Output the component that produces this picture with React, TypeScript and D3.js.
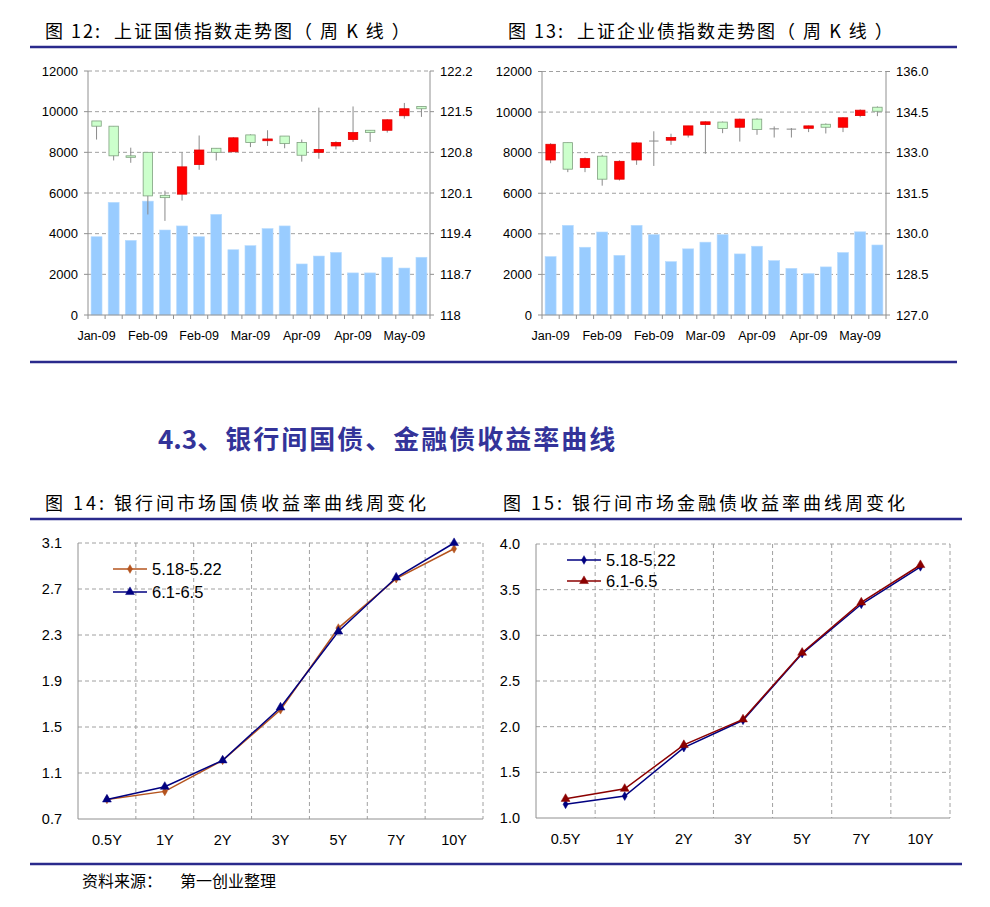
import React from "react";
import * as d3 from "d3";

// weekly candles, week start dates
const weekStarts = [
  "2009-01-12", "2009-01-19", "2009-01-26", "2009-02-02", "2009-02-09",
  "2009-02-16", "2009-02-23", "2009-03-02", "2009-03-09", "2009-03-16",
  "2009-03-23", "2009-03-30", "2009-04-06", "2009-04-13", "2009-04-20",
  "2009-04-27", "2009-05-04", "2009-05-11", "2009-05-18", "2009-05-25",
];

// 图12 上证国债指数
const govOpen = [121.34, 121.25, 120.74, 120.8, 120.06, 120.08, 120.59, 120.87, 120.81, 121.1, 121.0, 121.08, 120.97, 120.8, 120.91, 121.02, 121.18, 121.18, 121.43, 121.59];
const govClose = [121.25, 120.74, 120.72, 120.05, 120.02, 120.55, 120.84, 120.8, 121.05, 120.97, 121.03, 120.95, 120.75, 120.85, 120.97, 121.14, 121.14, 121.36, 121.55, 121.55];
const govHigh = [121.34, 121.25, 120.88, 120.8, 120.14, 120.8, 121.09, 120.87, 121.06, 121.11, 121.18, 121.08, 121.02, 121.57, 120.99, 121.59, 121.18, 121.37, 121.65, 121.59];
const govLow = [121.02, 120.66, 120.62, 119.73, 119.62, 119.97, 120.5, 120.66, 120.81, 120.89, 120.91, 120.87, 120.64, 120.69, 120.85, 120.98, 120.98, 121.14, 121.38, 121.41];
const govVolume = [3850, 5540, 3670, 5600, 4180, 4380, 3850, 4950, 3210, 3410, 4250, 4380, 2510, 2900, 3080, 2070, 2070, 2840, 2310, 2840];
const govPriceTicks = [118, 118.7, 119.4, 120.1, 120.8, 121.5, 122.2];

// 图13 上证企业债指数
const corpOpen = [132.73, 133.37, 132.45, 132.87, 132.02, 132.73, 133.43, 133.46, 133.65, 134.04, 134.13, 133.94, 134.24, 133.88, 133.87, 133.9, 134.05, 133.94, 134.37, 134.68];
const corpClose = [133.31, 132.39, 132.78, 132.02, 132.68, 133.36, 133.43, 133.56, 133.99, 134.14, 133.89, 134.24, 133.86, 133.88, 133.87, 133.99, 133.94, 134.29, 134.57, 134.53];
const corpHigh = [133.35, 133.37, 132.82, 132.92, 132.72, 133.39, 133.79, 133.7, 133.99, 134.16, 134.15, 134.26, 134.27, 133.97, 133.91, 134.0, 134.08, 134.31, 134.6, 134.71];
const corpLow = [132.61, 132.28, 132.28, 131.78, 131.97, 132.55, 132.51, 133.29, 133.56, 132.96, 133.72, 133.41, 133.66, 133.56, 133.56, 133.76, 133.71, 133.76, 134.31, 134.35];
const corpVolume = [2880, 4420, 3340, 4090, 2940, 4420, 3960, 2630, 3260, 3590, 3960, 3010, 3390, 2680, 2300, 2040, 2370, 3080, 4100, 3450];
const corpPriceTicks = [127, 128.5, 130, 131.5, 133, 134.5, 136];

const volumeTicks = [0, 2000, 4000, 6000, 8000, 10000, 12000];

// yield curves
const tenors = ["0.5Y", "1Y", "2Y", "3Y", "5Y", "7Y", "10Y"];
const govYieldMay = [0.87, 0.94, 1.21, 1.65, 2.36, 2.79, 3.05];
const govYieldJun = [0.87, 0.98, 1.21, 1.67, 2.33, 2.8, 3.1];
const finYieldMay = [1.15, 1.24, 1.77, 2.07, 2.8, 3.34, 3.75];
const finYieldJun = [1.21, 1.32, 1.8, 2.08, 2.81, 3.36, 3.77];
const govYieldTicks = [0.7, 1.1, 1.5, 1.9, 2.3, 2.7, 3.1];
const finYieldTicks = [1.0, 1.5, 2.0, 2.5, 3.0, 3.5, 4.0];

const LATIN = "'Liberation Sans', Arial, sans-serif";
const CJK = "'Noto Sans CJK SC', 'Liberation Sans', sans-serif";
const NAVY_RULE = "#2A2A8C";
const GRID = "#a0a0a0";
const AXIS = "#909090";

const parseDay = d3.timeParse("%Y-%m-%d");
const fmtMonth = d3.timeFormat("%b-%y");

interface KProps {
  left: number;
  top: number;
  width: number;
  height: number;
  open: number[];
  high: number[];
  low: number[];
  close: number[];
  volume: number[];
  priceTicks: number[];
  priceFmt: (v: number) => string;
}

const KChart: React.FC<KProps> = ({ left, top, width, height, open, high, low, close, volume, priceTicks, priceFmt }) => {
  const x = d3.scaleBand<number>().domain(d3.range(volume.length)).range([left, left + width]);
  const yVol = d3.scaleLinear().domain([0, 12000]).range([top + height, top]);
  const yPx = d3.scaleLinear().domain([priceTicks[0], priceTicks[priceTicks.length - 1]]).range([top + height, top]);
  const step = x.step();
  const barW = step * 0.64;
  const candleW = step * 0.55;
  const bottom = top + height;
  const right = left + width;

  return (
    <g>
      {/* grid */}
      {volumeTicks.slice(1).map((t) => (
        <line key={t} x1={left} x2={right} y1={yVol(t)} y2={yVol(t)} stroke={GRID} strokeDasharray="4,3" />
      ))}
      {/* volume bars */}
      {volume.map((v, i) => (
        <rect
          key={i}
          x={x(i)! + (step - barW) / 2}
          y={yVol(v)}
          width={barW}
          height={bottom - yVol(v)}
          fill="#99CCFF"
          stroke="#b8dcff"
          strokeWidth={0.6}
        />
      ))}
      {/* candles */}
      {open.map((o, i) => {
        const c = close[i];
        const cx = x(i)! + step / 2;
        const up = c > o;
        const doji = Math.abs(c - o) < 0.005;
        const yTop = yPx(Math.max(o, c));
        const yBot = yPx(Math.min(o, c));
        return (
          <g key={i}>
            <line x1={cx} x2={cx} y1={yPx(high[i])} y2={yPx(low[i])} stroke="#8a8a8a" strokeWidth={1} />
            {doji ? (
              <line x1={cx - candleW / 2} x2={cx + candleW / 2} y1={yTop} y2={yTop} stroke="#8a8a8a" strokeWidth={1} />
            ) : (
              <rect
                x={cx - candleW / 2}
                y={yTop}
                width={candleW}
                height={Math.max(yBot - yTop, 1.5)}
                fill={up ? "#FF0000" : "#CCFFCC"}
                stroke={up ? "#E00000" : "#7FA07F"}
                strokeWidth={0.8}
              />
            )}
          </g>
        );
      })}
      {/* axes */}
      <line x1={left} x2={left} y1={top} y2={bottom} stroke={AXIS} />
      <line x1={right} x2={right} y1={top} y2={bottom} stroke={AXIS} />
      <line x1={left} x2={right} y1={bottom} y2={bottom} stroke={AXIS} />
      {volumeTicks.map((t) => (
        <g key={t}>
          <line x1={left - 4} x2={left} y1={yVol(t)} y2={yVol(t)} stroke={AXIS} />
          <text x={left - 10} y={yVol(t)} dy="0.35em" textAnchor="end" fontSize={13} fontFamily={LATIN} fill="#000">
            {t}
          </text>
        </g>
      ))}
      {priceTicks.map((t) => (
        <g key={t}>
          <line x1={right} x2={right + 4} y1={yPx(t)} y2={yPx(t)} stroke={AXIS} />
          <text x={right + 10} y={yPx(t)} dy="0.35em" fontSize={13} fontFamily={LATIN} fill="#000">
            {priceFmt(t)}
          </text>
        </g>
      ))}
      {d3.range(volume.length + 1).map((i) => (
        <line key={i} x1={left + i * step} x2={left + i * step} y1={bottom} y2={bottom + 4} stroke={AXIS} />
      ))}
      {weekStarts.map((d, i) =>
        i % 3 === 0 ? (
          <text key={d} x={x(i)! + step / 2} y={bottom + 25} textAnchor="middle" fontSize={12.5} fontFamily={LATIN} fill="#000">
            {fmtMonth(parseDay(d)!)}
          </text>
        ) : null
      )}
    </g>
  );
};

interface Series {
  name: string;
  values: number[];
  color: string;
  marker: "diamond" | "triangle";
}

interface YProps {
  left: number;
  top: number;
  width: number;
  height: number;
  ticks: number[];
  series: Series[];
  legendX: number;
  legendY: number;
  legendGap: number;
}

const Marker: React.FC<{ kind: "diamond" | "triangle"; x: number; y: number; color: string }> = ({ kind, x, y, color }) => {
  const sym = d3.symbol().type(kind === "diamond" ? d3.symbolDiamond : d3.symbolTriangle).size(kind === "diamond" ? 22 : 34);
  return <path d={sym()!} transform={`translate(${x},${y})`} fill={color} stroke={color} strokeWidth={0.5} />;
};

const YieldChart: React.FC<YProps> = ({ left, top, width, height, ticks, series, legendX, legendY, legendGap }) => {
  const x = d3.scaleBand<string>().domain(tenors).range([left, left + width]);
  const y = d3.scaleLinear().domain([ticks[0], ticks[ticks.length - 1]]).range([top + height, top]);
  const step = x.step();
  const bottom = top + height;
  const right = left + width;
  const line = d3
    .line<number>()
    .x((_, i) => x(tenors[i])! + step / 2)
    .y((v) => y(v));

  return (
    <g>
      {ticks.slice(1).map((t) => (
        <line key={t} x1={left} x2={right} y1={y(t)} y2={y(t)} stroke={GRID} strokeDasharray="4,3" />
      ))}
      {d3.range(1, tenors.length + 1).map((i) => (
        <line key={i} x1={left + i * step} x2={left + i * step} y1={top} y2={bottom} stroke={GRID} strokeDasharray="4,3" />
      ))}
      <line x1={left} x2={left} y1={top} y2={bottom} stroke={AXIS} />
      <line x1={left} x2={right} y1={bottom} y2={bottom} stroke={AXIS} />
      {ticks.map((t) => (
        <text key={t} x={left - 16} y={y(t)} dy="0.35em" textAnchor="end" fontSize={14.5} fontFamily={LATIN} fill="#000">
          {t.toFixed(1)}
        </text>
      ))}
      {tenors.map((t) => (
        <text key={t} x={x(t)! + step / 2} y={bottom + 26} textAnchor="middle" fontSize={14.5} fontFamily={LATIN} fill="#000">
          {t}
        </text>
      ))}
      {series.map((s) => (
        <g key={s.name}>
          <path d={line(s.values)!} fill="none" stroke={s.color} strokeWidth={1.5} />
          {s.values.map((v, i) => (
            <Marker key={i} kind={s.marker} x={x(tenors[i])! + step / 2} y={y(v)} color={s.color} />
          ))}
        </g>
      ))}
      {/* legend */}
      {series.map((s, k) => {
        const ly = legendY + k * legendGap;
        return (
          <g key={s.name}>
            <line x1={legendX} x2={legendX + 34} y1={ly} y2={ly} stroke={s.color} strokeWidth={1.5} />
            <Marker kind={s.marker} x={legendX + 17} y={ly} color={s.color} />
            <text x={legendX + 39} y={ly} dy="0.35em" fontSize={16.5} fontFamily={LATIN} fill="#000">
              {s.name}
            </text>
          </g>
        );
      })}
    </g>
  );
};

export default function App() {
  const fmtGov = (v: number) => String(v);
  const fmtCorp = (v: number) => v.toFixed(1);
  const pre = { whiteSpace: "pre" as const };
  return (
    <svg
      width={990}
      height={907}
      viewBox="0 0 990 907"
      style={{ position: "absolute", left: 0, top: 0, background: "#fff" }}
    >
      <rect width={990} height={907} fill="#fff" />

      {/* top titles */}
      <text x={45} y={38} fontSize={18} fontFamily={CJK} letterSpacing={2} fill="#000" style={pre}>
        {"图 12:  上证国债指数走势图（ 周 K 线 ）"}
      </text>
      <text x={508} y={38} fontSize={18} fontFamily={CJK} letterSpacing={2} fill="#000" style={pre}>
        {"图 13:  上证企业债指数走势图（ 周 K 线 ）"}
      </text>
      <line x1={30} x2={957} y1={47} y2={47} stroke={NAVY_RULE} strokeWidth={2.5} />

      <KChart
        left={88}
        top={71}
        width={342}
        height={244}
        open={govOpen}
        high={govHigh}
        low={govLow}
        close={govClose}
        volume={govVolume}
        priceTicks={govPriceTicks}
        priceFmt={fmtGov}
      />
      <KChart
        left={542}
        top={71.5}
        width={344}
        height={243.5}
        open={corpOpen}
        high={corpHigh}
        low={corpLow}
        close={corpClose}
        volume={corpVolume}
        priceTicks={corpPriceTicks}
        priceFmt={fmtCorp}
      />
      <line x1={30} x2={957} y1={362} y2={362} stroke={NAVY_RULE} strokeWidth={2.5} />

      {/* section heading */}
      <text x={158} y={449} fontSize={26} fontWeight="bold" fontFamily={CJK} fill="#333399">
        <tspan>4.3</tspan>
        <tspan letterSpacing={2}>、银行间国债、金融债收益率曲线</tspan>
      </text>

      <text x={45} y={510} fontSize={18} fontFamily={CJK} letterSpacing={3} fill="#000">
        图 14: 银行间市场国债收益率曲线周变化
      </text>
      <text x={503} y={510} fontSize={18} fontFamily={CJK} letterSpacing={3} fill="#000">
        图 15: 银行间市场金融债收益率曲线周变化
      </text>
      <line x1={30} x2={962} y1={519} y2={519} stroke={NAVY_RULE} strokeWidth={2.5} />

      <YieldChart
        left={78}
        top={543}
        width={405}
        height={276}
        ticks={govYieldTicks}
        series={[
          { name: "5.18-5.22", values: govYieldMay, color: "#B5541E", marker: "diamond" },
          { name: "6.1-6.5", values: govYieldJun, color: "#000080", marker: "triangle" },
        ]}
        legendX={113}
        legendY={569}
        legendGap={23}
      />
      <YieldChart
        left={536}
        top={544}
        width={414}
        height={274}
        ticks={finYieldTicks}
        series={[
          { name: "5.18-5.22", values: finYieldMay, color: "#000080", marker: "diamond" },
          { name: "6.1-6.5", values: finYieldJun, color: "#8B0000", marker: "triangle" },
        ]}
        legendX={567}
        legendY={560}
        legendGap={21}
      />

      <line x1={30} x2={962} y1={864} y2={864} stroke={NAVY_RULE} strokeWidth={2.5} />
      <text x={82} y={887} fontSize={16} fontFamily={CJK} fill="#000">
        资料来源：
      </text>
      <text x={180} y={887} fontSize={16} fontFamily={CJK} fill="#000">
        第一创业整理
      </text>
    </svg>
  );
}
